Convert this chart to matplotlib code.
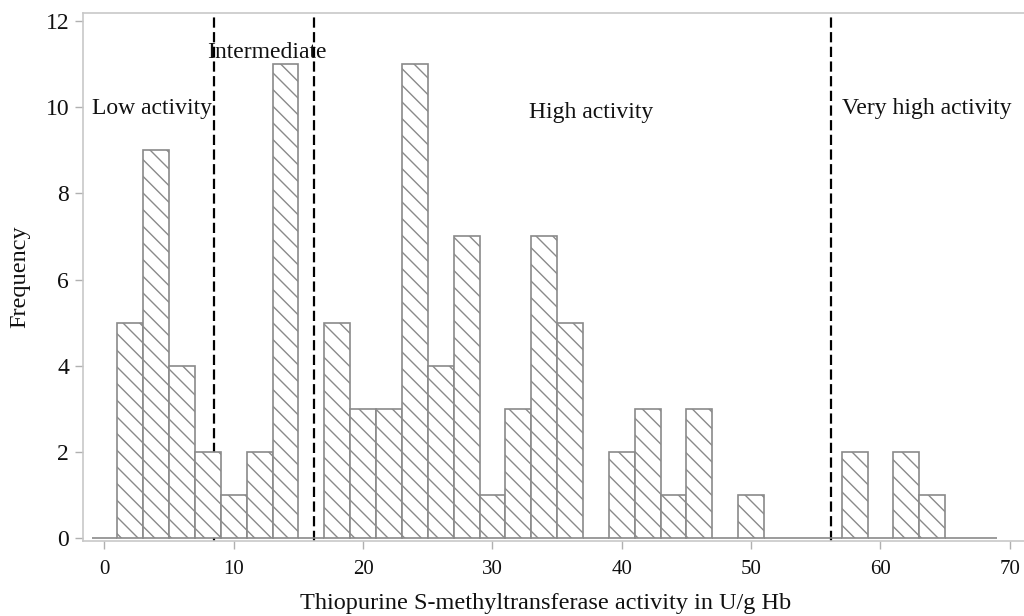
import matplotlib
matplotlib.use("Agg")
import matplotlib.pyplot as plt
import numpy as np

# Data: histogram bins (width 2) starting at -1
bin_left = [-1, 1, 3, 5, 7, 9, 11, 13, 15, 17, 19, 21, 23, 25, 27, 29, 31, 33,
            35, 37, 39, 41, 43, 45, 47, 49, 51, 53, 55, 57, 59, 61, 63, 65, 67]
counts = [0, 5, 9, 4, 2, 1, 2, 11, 0, 5, 3, 3, 11, 4, 7, 1, 3, 7,
          5, 0, 2, 3, 1, 3, 0, 1, 0, 0, 0, 2, 0, 2, 1, 0, 0]
bin_width = 2
cutoffs = [8.45, 16.2, 56.15]
region_labels = ["Low activity", "Intermediate", "High activity", "Very high activity"]
xticks = [0, 10, 20, 30, 40, 50, 60, 70]
yticks = [0, 2, 4, 6, 8, 10, 12]

plt.rcParams['font.family'] = ['Liberation Serif', 'DejaVu Serif']
plt.rcParams['hatch.linewidth'] = 1.0
plt.rcParams['hatch.color'] = '#555555'

fig = plt.figure(figsize=(10.24, 6.16), dpi=100)
ax = fig.add_axes([83/1024, 1 - 540.5/616, 1 - 83/1024, (540.5 - 13)/616])

for c in cutoffs:
    ax.axvline(c, color='black', linewidth=1.6, linestyle=(0, (4.6, 2.0)), zorder=2)

ax.bar(bin_left, counts, width=bin_width, align='edge', facecolor='white',
       edgecolor='#8a8a8a', linewidth=1.2, hatch='\\\\', zorder=3)

ax.text(-1.0, 9.83, region_labels[0], fontsize=17, ha='left', va='baseline', color='#111111', zorder=1)
ax.text(12.53, 11.14, region_labels[1], fontsize=17, ha='center', va='baseline', color='#111111', zorder=1)
ax.text(37.6, 9.75, region_labels[2], fontsize=17, ha='center', va='baseline', color='#111111', zorder=1)
ax.text(57.0, 9.83, region_labels[3], fontsize=17, ha='left', va='baseline', color='#111111', zorder=1)

ax.set_xlim(-1.66, 71.1)
ax.set_ylim(-0.05, 12.18)
ax.set_xticks(xticks)
ax.set_yticks(yticks)

for s in ['top', 'left', 'bottom', 'right']:
    ax.spines[s].set_color('#c8c8c8')
    ax.spines[s].set_linewidth(1.2)
ax.spines['right'].set_visible(False)

ax.tick_params(axis='both', colors='#b0b0b0', length=6, width=1.0, labelcolor='#111111')
ax.tick_params(axis='x', labelsize=15, pad=8)
ax.tick_params(axis='y', labelsize=17, pad=4)

ax.set_xlabel("Thiopurine S-methyltransferase activity in U/g Hb", fontsize=17.5, color='#111111')
ax.set_ylabel("Frequency", fontsize=17.5, color='#111111')
ax.xaxis.set_label_coords((546 - 83) / (1024 - 83), -(603 - 540.5) / 527.5)
ax.yaxis.set_label_coords(-(83 - 20) / (1024 - 83), 0.5)
ax.xaxis.label.set_va('center')
ax.yaxis.label.set_va('center')

fig.savefig("out.png", dpi=100)
